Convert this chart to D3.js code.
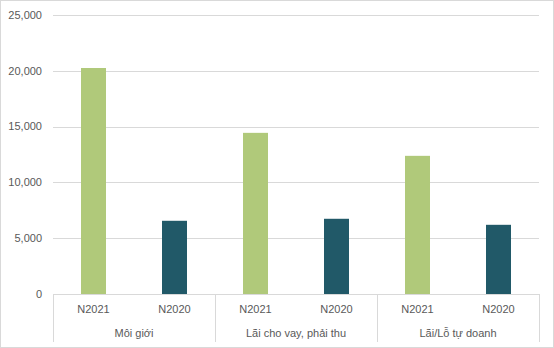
<!DOCTYPE html>
<html><head><meta charset="utf-8">
<script src="https://cdn.jsdelivr.net/npm/d3@7"></script>
<style>body{margin:0;background:#fff}svg{display:block}text{font-family:"Liberation Sans",Arial,sans-serif;fill:#595959}</style>
</head><body><svg id="c" width="554" height="348"></svg>
<script>
const groups = ["Môi giới", "Lãi cho vay, phải thu", "Lãi/Lỗ tự doanh"];
const years = ["N2021", "N2020"];
const values2021 = [20250, 14440, 12380];
const values2020 = [6560, 6740, 6200];
const yTicks = [0, 5000, 10000, 15000, 20000, 25000];
const colors = {"N2021": "#b0c97a", "N2020": "#215968"};

(function(){
const svg = d3.select("#c");
const W = 554, H = 348;
const pLeft = 53, pRight = 539, pTop = 15, pBottom = 294;

svg.append("rect").attr("x",0.5).attr("y",0.5).attr("width",W-1).attr("height",H-1)
  .attr("fill","#fff").attr("stroke","#d9d9d9");

const y = d3.scaleLinear().domain([0,25000]).range([pBottom, pTop]);
const x0 = d3.scaleBand().domain(groups).range([pLeft,pRight]);
const x1 = d3.scaleBand().domain(years).range([0, x0.bandwidth()]);

svg.append("g").selectAll("line").data(yTicks.filter(d=>d>0)).join("line")
  .attr("x1",pLeft).attr("x2",pRight)
  .attr("y1",d=>Math.round(y(d))+0.5).attr("y2",d=>Math.round(y(d))+0.5)
  .attr("stroke","#d9d9d9").attr("stroke-width",1);

svg.append("g").selectAll("text").data(yTicks).join("text")
  .attr("x",42).attr("y",d=>y(d)).attr("dy","0.35em")
  .attr("text-anchor","end").attr("font-size","11px")
  .text(d=>d3.format(",")(d));

const data = [];
groups.forEach((g,i)=>{
  data.push({g, yr:"N2021", v:values2021[i]});
  data.push({g, yr:"N2020", v:values2020[i]});
});
const bw = 25;
svg.append("g").selectAll("rect").data(data).join("rect")
  .attr("x",d=>x0(d.g)+x1(d.yr)+x1.bandwidth()/2-bw/2)
  .attr("width",bw)
  .attr("y",d=>y(d.v)).attr("height",d=>y(0)-y(d.v))
  .attr("fill",d=>colors[d.yr]);

svg.append("line").attr("x1",pLeft).attr("x2",pRight)
  .attr("y1",pBottom+0.5).attr("y2",pBottom+0.5).attr("stroke","#d9d9d9");

const seps = groups.map(g=>x0(g)).concat([pRight]);
svg.append("g").selectAll("line").data(seps).join("line")
  .attr("x1",d=>Math.round(d)+0.5).attr("x2",d=>Math.round(d)+0.5)
  .attr("y1",pBottom).attr("y2",342).attr("stroke","#d9d9d9");

svg.append("g").selectAll("text").data(data).join("text")
  .attr("x",d=>x0(d.g)+x1(d.yr)+x1.bandwidth()/2).attr("y",309).attr("dy","0.35em")
  .attr("text-anchor","middle").attr("font-size","11px").text(d=>d.yr);

svg.append("g").selectAll("text").data(groups).join("text")
  .attr("x",d=>x0(d)+x0.bandwidth()/2).attr("y",333).attr("dy","0.35em")
  .attr("text-anchor","middle").attr("font-size","11px").text(d=>d);
})();
</script></body></html>
